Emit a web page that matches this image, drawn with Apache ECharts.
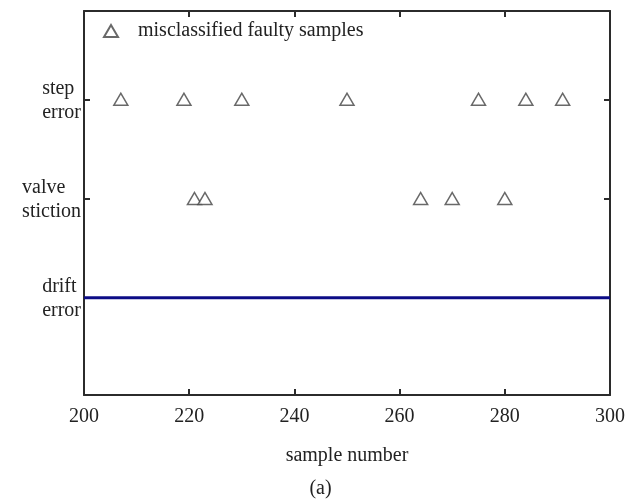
<!DOCTYPE html>
<html>
<head>
<meta charset="utf-8">
<script src="https://cdn.jsdelivr.net/npm/echarts@6/dist/echarts.min.js"></script>
<style>
  html, body { margin: 0; padding: 0; background: #fff; }
  #chart { width: 641px; height: 500px; }
</style>
</head>
<body>
<div id="chart"></div>
<script>
// Class levels on the y axis and their two-line names
const classLevels = [1, 2, 3];
const classNames = ['drift\nerror', 'valve\nstiction', 'step\nerror'];

// Sample numbers that were assigned to the wrong class
const stepErrorSamples = [207, 219, 230, 250, 275, 284, 291];
const valveStictionSamples = [221, 223, 264, 270, 280];

// Drift-error class held over the whole sample window
const driftSpan = [200, 300];

// x axis range and ticks
const xMin = 200, xMax = 300, xStep = 20;

const serif = 'Liberation Serif';
const axisColor = '#2b2b2b';

const misclassified = [
  ...stepErrorSamples.map(s => [s, 3]),
  ...valveStictionSamples.map(s => [s, 2])
];

const frameAxis = {
  axisLine: { show: true, lineStyle: { color: axisColor, width: 2 } },
  splitLine: { show: false }
};

const chart = echarts.init(document.getElementById('chart'), null, { renderer: 'canvas' });

chart.setOption({
  backgroundColor: '#fff',
  animation: false,
  title: {
    text: '(a)',
    left: 'center',
    top: 474,
    textStyle: { fontFamily: serif, fontSize: 20, fontWeight: 'normal', color: '#222' }
  },
  legend: {
    data: ['misclassified faulty samples'],
    left: 98,
    top: 16,
    itemWidth: 14,
    itemHeight: 12,
    textStyle: { fontFamily: serif, fontSize: 20, color: '#222', padding: [0, 0, 0, 15] }
  },
  grid: { left: 84, right: 31, top: 11, bottom: 105 },
  xAxis: [
    {
      ...frameAxis,
      type: 'value',
      position: 'bottom',
      min: xMin, max: xMax, interval: xStep,
      axisTick: { show: true, inside: true, length: 6, lineStyle: { color: axisColor, width: 2 } },
      axisLabel: { fontFamily: serif, fontSize: 20, color: '#222', margin: 12 },
      name: 'sample number',
      nameLocation: 'middle',
      nameGap: 51,
      nameTextStyle: { fontFamily: serif, fontSize: 20, color: '#222' }
    },
    {
      ...frameAxis,
      type: 'value',
      position: 'top',
      min: xMin, max: xMax, interval: xStep,
      axisTick: { show: true, inside: true, length: 6, lineStyle: { color: axisColor, width: 2 } },
      axisLabel: { show: false }
    }
  ],
  yAxis: [
    {
      ...frameAxis,
      type: 'value',
      position: 'left',
      min: 0.02, max: 3.89,
      axisTick: { show: true, inside: true, length: 6, customValues: classLevels,
                  lineStyle: { color: axisColor, width: 2 } },
      axisLabel: {
        customValues: classLevels,
        margin: 3,
        formatter: v => {
          const i = classLevels.indexOf(Math.round(v));
          if (i < 0) return '';
          return classNames[i].split('\n').map(s => '{t|' + s + '}').join('\n');
        },
        rich: {
          t: { align: 'left', fontFamily: serif, fontSize: 20, lineHeight: 24, color: '#222',
               padding: [2, 0, 0, 0] }
        }
      }
    },
    {
      ...frameAxis,
      type: 'value',
      position: 'right',
      min: 0.02, max: 3.89,
      axisTick: { show: true, inside: true, length: 6, customValues: classLevels,
                  lineStyle: { color: axisColor, width: 2 } },
      axisLabel: { show: false }
    }
  ],
  series: [
    {
      name: 'drift error',
      type: 'line',
      data: driftSpan.map(s => [s, 1]),
      symbol: 'none',
      lineStyle: { color: '#0c0c86', width: 3 },
      z: 1
    },
    {
      name: 'misclassified faulty samples',
      type: 'scatter',
      data: misclassified,
      symbol: 'triangle',
      symbolSize: [14, 12],
      itemStyle: { color: '#fff', borderColor: '#444', borderWidth: 1.5 },
      z: 3
    }
  ]
});
</script>
</body>
</html>
